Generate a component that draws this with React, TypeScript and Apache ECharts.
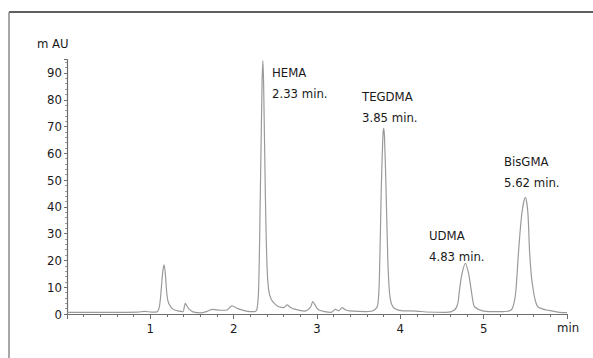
import React, { useEffect, useRef } from "react";
import * as echarts from "echarts";

// retention time (min)
const times = [
  0.0, 0.5, 0.85, 0.93, 1.02, 1.08, 1.11, 1.13, 1.15, 1.165, 1.18, 1.2, 1.22, 1.26, 1.3, 1.35,
  1.39, 1.41, 1.42, 1.44, 1.46, 1.51, 1.61, 1.68, 1.75, 1.84, 1.91, 1.98, 2.05, 2.15, 2.25,
  2.28, 2.3, 2.32, 2.34, 2.35, 2.36, 2.38, 2.4, 2.42, 2.45, 2.5, 2.55, 2.6, 2.64, 2.68, 2.73,
  2.85, 2.92, 2.95, 2.98, 3.01, 3.09, 3.17, 3.22, 3.26, 3.3, 3.34, 3.39, 3.59, 3.69, 3.73,
  3.75, 3.77, 3.79, 3.8, 3.81, 3.83, 3.85, 3.87, 3.89, 3.93, 4.03, 4.19, 4.31, 4.55, 4.65,
  4.69, 4.71, 4.74, 4.78, 4.82, 4.85, 4.87, 4.89, 4.99, 5.19, 5.33, 5.37, 5.39, 5.42, 5.46,
  5.5, 5.53, 5.55, 5.57, 5.59, 5.62, 5.65, 5.75, 5.83, 5.91, 6.0,
];
// absorbance (mAU)
const absorbance = [
  0.6, 0.6, 0.7, 1.0, 0.7, 0.8, 3, 9, 16, 18.4, 15, 7, 4, 2.1, 1.4, 1.1,
  0.8, 3.0, 4.0, 3.0, 2.0, 0.8, 0.4, 1.0, 1.7, 1.4, 1.4, 3.0, 2.0, 1.1, 0.9,
  1.8, 10, 45, 85, 94.6, 85, 45, 18, 9, 5.5, 3.6, 2.6, 2.4, 3.4, 2.5, 1.8,
  1.1, 2.5, 4.6, 3.2, 1.8, 0.9, 0.6, 1.75, 1.2, 2.35, 1.6, 1.2, 0.9, 1.5, 3.5,
  15, 45, 66, 69.3, 66, 45, 20, 8, 4.1, 2.1, 1.2, 1.1, 0.75, 0.6, 1.5,
  4, 9, 15, 18.9, 15, 9, 5, 2.7, 1.2, 0.85, 1.5, 5, 10, 23.9, 38,
  43.6, 38, 23.9, 15, 10, 5, 2.7, 1.5, 1.1, 0.6, 0.5,
];

const peakNames = ["HEMA", "TEGDMA", "UDMA", "BisGMA"];
const peakTimes = ["2.33 min.", "3.85 min.", "4.83 min.", "5.62 min."];

const FONT = "'DejaVu Sans Condensed', 'Liberation Sans Narrow', sans-serif";

export default function App() {
  const ref = useRef<HTMLDivElement>(null);
  useEffect(() => {
    if (!ref.current) return;
    const chart = echarts.init(ref.current, null, { renderer: "svg" });
    const labelPos = [
      [272, 62],
      [362, 86],
      [429, 225],
      [504, 151],
    ];
    const axisColor = "#6e6e6e";
    chart.setOption({
      animation: false,
      backgroundColor: "#ffffff",
      grid: { left: 67, right: 26, top: 59.6, bottom: 44 },
      xAxis: {
        type: "value",
        min: 0,
        max: 6,
        interval: 1,
        axisLine: { show: true, lineStyle: { color: axisColor, width: 1.2 } },
        axisTick: { show: true, length: 5, lineStyle: { color: axisColor } },
        minorTick: { show: true, splitNumber: 5, length: 3, lineStyle: { color: axisColor } },
        splitLine: { show: false },
        axisLabel: {
          color: "#1a1a1a",
          fontFamily: FONT,
          fontSize: 13,
          margin: 8,
          formatter: (v: number) => (v === 0 || v === 6 ? "" : String(v)),
        },
      },
      yAxis: {
        type: "value",
        min: 0,
        max: 95,
        interval: 10,
        axisLine: { show: true, lineStyle: { color: axisColor, width: 1.2 } },
        axisTick: { show: true, length: 3, lineStyle: { color: axisColor } },
        minorTick: { show: true, splitNumber: 5, length: 2, lineStyle: { color: "#999" } },
        splitLine: { show: false },
        axisLabel: {
          color: "#1a1a1a",
          fontFamily: FONT,
          fontSize: 13,
          margin: 5,
          formatter: (v: number) => (v > 90 ? "" : String(v)),
        },
      },
      series: [
        {
          type: "line",
          data: times.map((t, i) => [t, absorbance[i]]),
          showSymbol: false,
          smooth: 0.3,
          lineStyle: { color: "#9a9a9a", width: 1.2 },
        },
      ],
      graphic: [
        {
          type: "line",
          shape: { x1: 9, y1: 12, x2: 593, y2: 12 },
          style: { stroke: "#2a2a2a", lineWidth: 1.5 },
        },
        {
          type: "line",
          shape: { x1: 9, y1: 12, x2: 9, y2: 358 },
          style: { stroke: "#8a8a8a", lineWidth: 1.5 },
        },
        {
          type: "text",
          left: 37,
          top: 37,
          style: { text: "m AU", fill: "#1a1a1a", font: `13px ${FONT}` },
        },
        {
          type: "text",
          left: 557,
          top: 321,
          style: { text: "min", fill: "#1a1a1a", font: `13px ${FONT}` },
        },
        ...peakNames.map((n, i) => ({
          type: "text",
          left: labelPos[i][0],
          top: labelPos[i][1],
          style: {
            text: n + "\n" + peakTimes[i],
            fill: "#1a1a1a",
            font: `13px ${FONT}`,
            lineHeight: 21,
          },
        })),
      ],
    });
    return () => chart.dispose();
  }, []);
  return (
    <div
      ref={ref}
      style={{ position: "fixed", left: 0, top: 0, width: 593, height: 358 }}
    />
  );
}
